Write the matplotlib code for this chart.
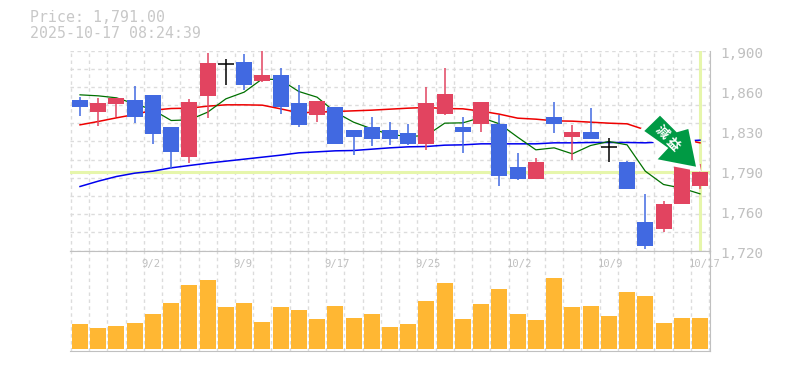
import matplotlib
matplotlib.use('Agg')
import matplotlib.pyplot as plt
from matplotlib.patches import Polygon

# 35 sessions, prices in yen
opens = [1855, 1844.2, 1851.4, 1855, 1859.5, 1831.6, 1804.6, 1858.6, 1888, 1889.2, 1872.1, 1877.5,
         1852.3, 1841.5, 1848.7, 1828, 1830.7, 1828, 1825.3, 1815.4, 1842.4, 1830.7, 1834.3, 1834.3,
         1795.6, 1784.8, 1840.6, 1822.6, 1826.2, 1813.3, 1800.1, 1746.1, 1739.8, 1762.3, 1778.5]
closes = [1848.7, 1852.3, 1856.8, 1839.7, 1825.3, 1809.1, 1854.1, 1888.3, 1888, 1868.5, 1877.5, 1848.7,
          1832.5, 1854.1, 1816.3, 1822.6, 1819.9, 1819.9, 1815.4, 1852.3, 1860.4, 1826.2, 1854.1, 1787.5,
          1784.8, 1800.1, 1834.3, 1826.2, 1820.8, 1813.3, 1775.8, 1724.5, 1761.4, 1801, 1791.1]
highs = [1858.6, 1857.7, 1857.7, 1868.5, 1859.5, 1831.6, 1856.8, 1898.2, 1892.8, 1897.3, 1900, 1884.7,
         1869.4, 1854.1, 1848.7, 1828, 1840.6, 1836.1, 1834.3, 1867.6, 1884.7, 1840.6, 1854.1, 1842.4,
         1808.2, 1803.7, 1854.1, 1833.4, 1848.7, 1821.7, 1801, 1771.3, 1765, 1801, 1798.3]
lows = [1841.5, 1832.5, 1840.6, 1835.2, 1816.3, 1793.8, 1799.2, 1839.7, 1869.4, 1864.9, 1872.1, 1843.3,
        1831.6, 1836.1, 1816.3, 1806.4, 1814.5, 1815.4, 1815.4, 1810.9, 1842.4, 1808.2, 1827.1, 1778.5,
        1783.9, 1784.8, 1826.2, 1801.9, 1820.8, 1800.1, 1775.8, 1721.8, 1737.1, 1762.3, 1775.8]
ma_short = [1860.1, 1859.2, 1857.4, 1852, 1846.6, 1837, 1837.6, 1844.5, 1856.5, 1862.5, 1874.5, 1873.6,
            1863.1, 1858, 1844.5, 1835.5, 1829.5, 1824.4, 1822.6, 1823.5, 1834.6, 1834.9, 1839.7, 1834,
            1822, 1810.6, 1812.4, 1807, 1814.5, 1818.1, 1815.1, 1791.4, 1779.4, 1776.1, 1771]
ma_mid = [1833.1, 1836.1, 1839.4, 1842.4, 1846.3, 1847.8, 1848.1, 1849.9, 1851.1, 1851.1, 1850.8, 1847.5,
          1843.9, 1844.5, 1845.1, 1845.7, 1846.3, 1847.2, 1848.1, 1848.7, 1847.8, 1847.5, 1845.4, 1842.7,
          1839.1, 1838.2, 1836.7, 1836.4, 1835.5, 1834.6, 1834, 1828.6, 1823.5, 1820.2, 1816.9]
ma_long = [1777.6, 1782.4, 1786.6, 1789.6, 1791.4, 1794.4, 1796.5, 1798.6, 1800.4, 1802.2, 1804, 1805.8,
           1807.9, 1808.8, 1809.7, 1810, 1811.2, 1812.4, 1813.3, 1813.6, 1814.8, 1815.1, 1816, 1816,
           1816, 1816, 1816.9, 1816.9, 1817.2, 1817.2, 1817.2, 1816.9, 1817.8, 1818.4, 1819.3]
volumes = [25.3, 21.3, 23.3, 26.3, 35.3, 46.3, 64.3, 69.3, 42.3, 46.3, 27.3, 42.3, 39.3, 30.3, 43.3, 31.3, 35.3, 22.3,
           25.3, 48.3, 66.3, 30.3, 45.3, 60.3, 35.3, 29.3, 71.3, 42.3, 43.3, 33.3, 57.3, 53.3, 26.3, 31.3, 31.3]
last_price = 1791
date_idx = [4, 9, 14, 19, 24, 29, 34]
date_labels = ['9/2', '9/9', '9/17', '9/25', '10/2', '10/9', '10/17']
price_ticks = [1900, 1864, 1828, 1792, 1756, 1720]
price_labels = ['1,900', '1,860', '1,830', '1,790', '1,760', '1,720']

W, H = 785, 370
GREY = '#c0c0c0'
GRID = '#dcdcdc'
LIME = '#e6f6ab'
RED = '#e24460'
BLUE = '#4169e1'
xlim = (-0.532, 34.565)

fig = plt.figure(figsize=(W / 100, H / 100), dpi=100, facecolor='white')
ax = fig.add_axes([70.3 / W, 1 - 250.5 / H, 640 / W, 200 / H])
axv = fig.add_axes([70.3 / W, 1 - 350.5 / H, 640 / W, 100 / H])

for a in (ax, axv):
    a.set_xlim(*xlim)
    a.set_xticks([i - 0.5 for i in range(36)])
    a.tick_params(length=0, labelbottom=False, labelleft=False)
    a.grid(axis='x', color=GRID, lw=1, ls=(0, (2.5, 2.5)))
    a.set_axisbelow(True)
    for s in a.spines.values():
        s.set_visible(False)
    a.spines['right'].set_visible(True)
    a.spines['right'].set_color(GREY)
    a.spines['bottom'].set_visible(True)
    a.spines['bottom'].set_color(GREY)

# price panel
ax.set_ylim(1720, 1900)
ax.set_yticks([1900 - i * 180 / 11 for i in range(12)])
ax.grid(axis='y', color=GRID, lw=1, ls=(0, (2.5, 2.5)))
ax.axhline(last_price, color=LIME, lw=2.2, zorder=1)
ax.axvline(34, ymin=0.01, ymax=0.995, color=LIME, lw=2.2, zorder=1)

x = list(range(35))
ax.plot(x, ma_long, color='#0000ee', lw=1.1, zorder=2)
ax.plot(x, ma_mid, color='#ee0000', lw=1.1, zorder=2)
ax.plot(x, ma_short, color='#007000', lw=0.9, zorder=2)

for i in x:
    if closes[i] == opens[i]:
        c = 'black'
    elif closes[i] > opens[i]:
        c = RED
    else:
        c = BLUE
    ax.vlines(i, lows[i], highs[i], color=c, lw=1.1, zorder=3)
    if c == 'black':
        ax.hlines(opens[i], i - 0.44, i + 0.44, color=c, lw=1.1, zorder=3)
    else:
        ax.bar(i, abs(closes[i] - opens[i]), bottom=min(opens[i], closes[i]), width=0.88, color=c, zorder=4)

for t, l in zip(price_ticks, price_labels):
    ax.annotate(l, (1, t), xycoords=('axes fraction', 'data'), xytext=(7, -2.4), textcoords='offset points',
                family='DejaVu Sans Mono', fontsize=10.4, color=GREY, ha='left', va='center', annotation_clip=False)

# volume panel
axv.set_ylim(-1.7, 98.3)
axv.set_yticks([])
axv.bar(x, volumes, width=0.88, color='#ffb733', zorder=2)
axv.spines['top'].set_visible(True)
axv.spines['top'].set_color(GREY)
for i, l in zip(date_idx, date_labels):
    axv.annotate(l, (i, 1), xycoords=('data', 'axes fraction'), xytext=(-8, -6), textcoords='offset points',
                 family='DejaVu Sans Mono', fontsize=7.6, color=GREY, ha='left', va='top', annotation_clip=False)

# arrow stamp, placed in image pixels, white halo cuts whatever lies under it
def img(pts):
    return [(a / W, 1 - b / H) for a, b in pts]
arrow_pts = [(660, 115.7), (644.3, 131), (668.3, 148), (657.7, 159.3), (696, 166.7), (688.3, 129), (676.7, 132.3)]
fig.add_artist(Polygon(img(arrow_pts), closed=True, transform=fig.transFigure, facecolor='white',
                       edgecolor='white', lw=5.8, joinstyle='miter', zorder=6))
fig.add_artist(Polygon(img(arrow_pts), closed=True, transform=fig.transFigure, facecolor='#009a44',
                       edgecolor='none', zorder=6.5))
fig.text(661.5 / W, 1 - 132.5 / H, '減', rotation=-45, family=['Noto Sans CJK JP', 'DejaVu Sans'], fontsize=9.5,
         fontweight='bold', color='white', ha='center', va='center', zorder=7)
fig.text(672.5 / W, 1 - 144.5 / H, '益', rotation=-45, family=['Noto Sans CJK JP', 'DejaVu Sans'], fontsize=9.5,
         fontweight='bold', color='white', ha='center', va='center', zorder=7)

fig.text(30 / W, 1 - 18 / H, 'Price: 1,791.00', family='DejaVu Sans Mono', fontsize=10.7, color='#c8c8c8',
         ha='left', va='center')
fig.text(30 / W, 1 - 33 / H, '2025-10-17 08:24:39', family='DejaVu Sans Mono', fontsize=10.7, color='#c8c8c8',
         ha='left', va='center')

fig.savefig('out.png', dpi=100)
